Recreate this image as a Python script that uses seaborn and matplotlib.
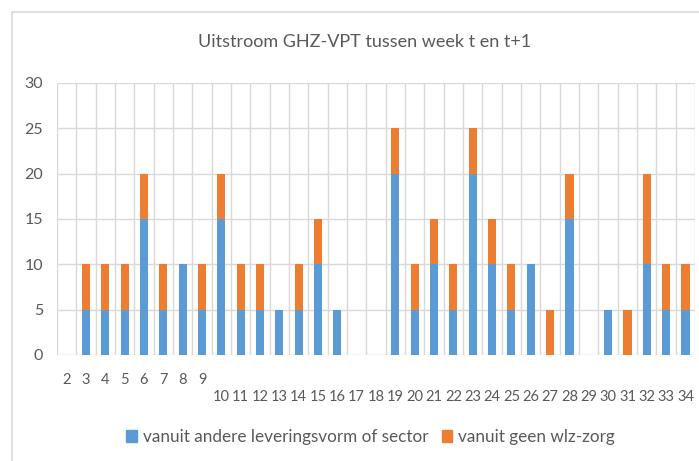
import numpy as np
import pandas as pd
import seaborn as sns
import matplotlib.pyplot as plt
from matplotlib.patches import Rectangle, Patch

weeks = list(range(2, 35))
andere_vorm = [0, 5, 5, 5, 15, 5, 10, 5, 15, 5, 5, 5, 5, 10, 5, 0, 0,
               20, 5, 10, 5, 20, 10, 5, 10, 0, 15, 0, 5, 0, 10, 5, 5]
geen_wlz = [0, 5, 5, 5, 5, 5, 0, 5, 5, 5, 5, 0, 5, 5, 0, 0, 0,
            5, 5, 5, 5, 5, 5, 5, 0, 5, 5, 0, 0, 5, 10, 5, 5]
series_names = ["vanuit andere leveringsvorm of sector", "vanuit geen wlz-zorg"]
title = "Uitstroom GHZ-VPT tussen week t en t+1"

blue = "#5B9BD5"
orange = "#ED7D31"
txt = "#595959"
grid = "#D9D9D9"

df = pd.DataFrame({"week": [str(w) for w in weeks],
                   "andere": andere_vorm,
                   "geen": geen_wlz})
df["totaal"] = df["andere"] + df["geen"]

sns.set_style("white")
plt.rcParams["font.family"] = ["Lato", "DejaVu Sans"]

fig = plt.figure(figsize=(6.99, 4.61), dpi=100)
ax = fig.add_axes([0.0815, 0.23, 0.913, 0.59])

# stacked: total in orange, blue part drawn over it
sns.barplot(data=df, x="week", y="totaal", color=orange, width=0.42,
            saturation=1, linewidth=0, ax=ax, zorder=3)
sns.barplot(data=df, x="week", y="andere", color=blue, width=0.42,
            saturation=1, linewidth=0, ax=ax, zorder=4)

n = len(weeks)
ax.set_xlim(-0.5, n - 0.5)
ax.set_ylim(0, 30)
ax.set_yticks(range(0, 31, 5))
# Excel put weeks 10+ on a second label row
ax.set_xticks(range(n), [str(w) if w < 10 else "\n" + str(w) for w in weeks])
for lab in ax.get_xticklabels():
    lab.set_linespacing(1.3)
for x in np.arange(-0.5, n, 1.0):
    ax.axvline(x, color=grid, lw=1, zorder=1)
for y in range(0, 31, 5):
    ax.axhline(y, color=grid, lw=1, zorder=1)
for s in ax.spines.values():
    s.set_visible(False)
ax.tick_params(axis="x", length=0, labelsize=10.5, colors=txt, pad=13)
ax.tick_params(axis="y", length=0, labelsize=11.5, colors=txt, pad=10)
ax.set_xlabel("")
ax.set_ylabel("")

fig.text(0.521, 0.908, title, ha="center", va="center", fontsize=13, color=txt)

handles = [Patch(color=blue), Patch(color=orange)]
fig.legend(handles, series_names, loc="center", bbox_to_anchor=(0.53, 0.052),
           ncol=2, frameon=False, fontsize=12.3, handlelength=0.6, handleheight=0.7,
           handletextpad=0.35, columnspacing=0.8, labelcolor=txt)

fig.patches.append(Rectangle((12 / 699, -0.1), 1.2, 1.1 - 12 / 461,
                             transform=fig.transFigure, fill=False,
                             edgecolor="#D9D9D9", lw=1.2))

fig.savefig("out.png", dpi=100)
